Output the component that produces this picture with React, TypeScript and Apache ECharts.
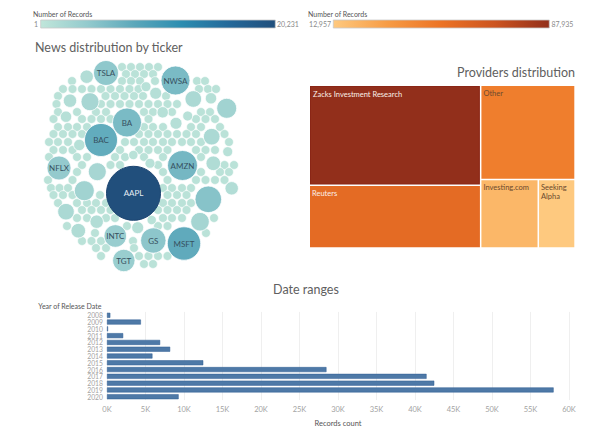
import React, { useEffect, useRef } from "react";
import * as echarts from "echarts";

// ---------- data ----------
const bubbleLegendRange = [1, 20231];
const providerLegendRange = [12957, 87935];

const tickerNames = ["TGT", "INTC", "NFLX", "TSLA", "GS", "BA", "NWSA", "AMZN", "BAC", "MSFT", "AAPL"];
const tickerRecords = [3481, 3544, 3996, 4336, 4476, 5835, 5835, 6244, 7556, 7740, 20231];
// packed-bubble layout coordinates
const tickerLayoutX = [123.8, 115.3, 59, 106, 153.3, 127, 175.5, 182.5, 101, 184, 133.5];
const tickerLayoutY = [260.5, 236, 168, 73, 240.5, 122.5, 80.5, 165.5, 140, 243.5, 193.3];

// unlabeled medium tickers: [layoutX, layoutY, records]
const unlabeledTickers: [number, number, number][] = [
  [226.7, 108.3, 2775], [193.3, 99, 1912], [211, 98.3, 902], [211.7, 136.7, 1912],
  [176, 123.3, 999], [155.7, 93.3, 999], [162.7, 112.3, 902], [187.7, 116, 694],
  [227.7, 151.7, 694], [146, 86.7, 694], [84.3, 190.7, 2775], [97.3, 171.7, 2248],
  [66, 211.7, 1912], [78.3, 230.7, 1479], [96.7, 221.7, 1246], [137.7, 227.7, 999],
  [208.3, 199.3, 4909], [200, 221.7, 2401], [231.7, 188.3, 1246], [213.3, 163.3, 1479],
  [90, 101.7, 2248], [70, 100.7, 1246], [86.7, 76.7, 1246], [66, 116.7, 902],
  [79.3, 145, 902], [151.7, 220, 613], [150, 163.3, 694], [133.3, 155, 613],
];

// small tickers, by layout row: [layoutY, layoutX list]
const smallTickerRows: [number, number[]][] = [
  [67, [122, 131, 140, 149, 158]],
  [74, [126, 135, 144, 153]],
  [81, [72, 122, 131, 140, 155, 197, 205]],
  [89, [63, 72.5, 82, 91.5, 101, 110.5, 120, 129.5, 138.5, 199, 208, 216]],
  [96, [58, 105.5, 115, 124.5, 134, 143, 166]],
  [104, [56.5, 101, 110.5, 120, 129.5, 139, 148.5, 158, 167.5, 177]],
  [112, [58, 77, 96, 106, 144, 153, 172, 201, 210]],
  [119, [53.5, 82, 91.5, 101, 110.5, 148.5, 196, 205.5, 215]],
  [127, [58, 68, 77, 87, 144, 153, 163, 191, 201, 220]],
  [134, [53.5, 63, 72.5, 82, 139, 148.5, 158, 167.5, 177, 186.5, 196, 224.5]],
  [142, [49, 58, 68, 125, 134, 144, 153, 163, 172, 182, 191, 201, 229]],
  [150, [53.5, 63, 72.5, 120, 139, 148.5, 158, 167.5, 196, 205.5, 215]],
  [157, [49, 77, 87, 115, 125, 144, 163, 201]],
  [165, [82, 110.5, 120, 158, 224.5, 234]],
  [172, [77, 163, 201, 220, 229]],
  [180, [48, 72.5, 167.5, 196, 205.5, 215, 224.5]],
  [188, [51, 59.5, 68, 163, 172, 182, 191]],
  [195, [53.5, 63, 72.5, 100, 167.5, 177, 186.5]],
  [203, [58, 77, 87, 96, 106, 163, 172, 182, 191]],
  [210, [82, 91.5, 101, 110.5, 158, 167.5, 177, 186.5]],
  [218, [77, 87, 106, 115, 163, 172, 182, 214]],
  [226, [67, 127, 158, 167.5]],
  [233, [95, 206]],
  [241, [82, 91.5, 101, 133]],
  [248, [96, 106, 134]],
  [256, [101, 139, 148.5, 158, 167.5]],
  [264, [144, 153]],
];
const smallTickerRecords = 540;

const providerNames = ["Zacks Investment Research", "Reuters", "Other", "Investing.com", "Seeking Alpha"];
const providerRecords = [87935, 55300, 45600, 20308, 12957];

const years = ["2008", "2009", "2010", "2011", "2012", "2013", "2014", "2015", "2016", "2017", "2018", "2019", "2020"];
const yearRecords = [430, 4400, 130, 2100, 6900, 8200, 5900, 12500, 28500, 41500, 42500, 58000, 9300];

// ---------- styles ----------
const FONT = "Lato, 'Noto Sans', sans-serif";
const tealStops = ["#c0e6da", "#93cacd", "#5ba7ba", "#2c8db0", "#24699a", "#214f7c"];
const orangeStops = ["#fec97f", "#f79c45", "#ec7325", "#cc5420", "#922f1b"];
const MAX_RADIUS = 27;
const TITLE_COLOR = "#606060";

function gradient(stops: string[]) {
  return new echarts.graphic.LinearGradient(
    0, 0, 1, 0,
    stops.map((c, i) => ({ offset: i / (stops.length - 1), color: c }))
  );
}
const fmt = (n: number) => n.toLocaleString("en-US");

export default function App() {
  const ref = useRef<HTMLDivElement>(null);

  useEffect(() => {
    if (!ref.current) return;
    const chart = echarts.init(ref.current, undefined, { renderer: "svg" });

    const smallData: any[] = [];
    smallTickerRows.forEach(([y, xs]) => xs.forEach((x) => smallData.push([x, y, smallTickerRecords])));

    const tickerData: any[] = unlabeledTickers.map((d) => ({ value: d, label: { show: false } }));
    tickerNames.forEach((name, i) => {
      const isTop = tickerRecords[i] === bubbleLegendRange[1];
      tickerData.push({
        name,
        value: [tickerLayoutX[i], tickerLayoutY[i], tickerRecords[i]],
        label: { show: true, color: isTop ? "#e4ebf3" : "#36505f" },
        itemStyle: isTop ? { borderColor: "#1d4571", borderWidth: 1 } : undefined,
      });
    });

    const [pMin, pMax] = providerLegendRange;
    const treeData = providerNames.map((name, i) => {
      const t = (providerRecords[i] - pMin) / (pMax - pMin);
      const dark = t > 0.5;
      return {
        name,
        value: providerRecords[i],
        itemStyle: {
          color: echarts.color.lerp(Math.max(0, Math.min(1, t)), orangeStops),
          ...(i === 0 ? { borderColor: "#8a2616", borderWidth: 1 } : {}),
        },
        label: { color: dark ? "#fbefe8" : "#6b4a2e" },
      };
    });

    const sizeOf = (v: number[]) => 2 * MAX_RADIUS * Math.sqrt(v[2] / bubbleLegendRange[1]);

    chart.setOption({
      animation: false,
      textStyle: { fontFamily: FONT },
      grid: [
        { left: 30, top: 50, width: 230, height: 230 },
        { left: 107, top: 311.9, width: 462, height: 88.2 },
      ],
      xAxis: [
        { gridIndex: 0, type: "value", min: 30, max: 260, show: false },
        {
          gridIndex: 1, type: "value", min: 0, max: 60000, interval: 5000,
          axisLine: { show: false }, axisTick: { show: false },
          splitLine: { show: true, lineStyle: { color: "#efefef", width: 1 } },
          axisLabel: { formatter: (v: number) => v / 1000 + "K", color: "#a3a3a3", fontSize: 7.5, margin: 5, fontFamily: FONT },
          name: "Records count", nameLocation: "middle", nameGap: 19,
          nameTextStyle: { color: "#555", fontSize: 7.5, fontFamily: FONT },
        },
      ],
      yAxis: [
        { gridIndex: 0, type: "value", min: 50, max: 280, inverse: true, show: false },
        {
          gridIndex: 1, type: "category", data: years, inverse: true,
          axisLine: { show: false }, axisTick: { show: false }, splitLine: { show: false },
          axisLabel: { interval: 0, color: "#a3a3a3", fontSize: 6.8, lineHeight: 6.5, margin: 4, fontFamily: FONT },
        },
      ],
      visualMap: {
        type: "continuous", show: false, min: bubbleLegendRange[0], max: bubbleLegendRange[1],
        dimension: 2, seriesIndex: [0, 1], inRange: { color: tealStops },
      },
      series: [
        {
          type: "scatter", xAxisIndex: 0, yAxisIndex: 0, silent: true,
          data: smallData, symbolSize: sizeOf,
          itemStyle: { borderColor: "#ffffff", borderWidth: 0.6, opacity: 1 },
        },
        {
          type: "scatter", xAxisIndex: 0, yAxisIndex: 0, silent: true,
          data: tickerData, symbolSize: sizeOf,
          itemStyle: { borderColor: "#ffffff", borderWidth: 0.8, opacity: 1 },
          label: { position: "inside", formatter: "{b}", fontSize: 8, fontFamily: FONT },
        },
        {
          type: "treemap", left: 310, top: 86, width: 264.3, height: 161.3,
          roam: false, nodeClick: false, silent: true,
          breadcrumb: { show: false },
          itemStyle: { borderWidth: 0, gapWidth: 1.5, borderColor: "#fff" },
          levels: [{ itemStyle: { borderWidth: 0, gapWidth: 1.5 } }],
          label: {
            show: true, position: "insideTopLeft", fontSize: 7.5, fontFamily: FONT,
            padding: [3, 2], overflow: "break", lineHeight: 9,
          },
          upperLabel: { show: false },
          data: treeData,
        },
        {
          type: "bar", xAxisIndex: 1, yAxisIndex: 1, silent: true,
          data: yearRecords, barWidth: 5,
          itemStyle: { color: "#4e79a7", borderColor: "#2f5d93", borderWidth: 0.5 },
        },
      ],
      graphic: [
        // bubble legend
        { type: "text", x: 33, y: 14, style: { text: "Number of Records", fill: "#555", fontSize: 7, fontFamily: FONT, verticalAlign: "middle" } },
        { type: "rect", shape: { x: 40.7, y: 20, width: 234.6, height: 8 }, style: { fill: gradient(tealStops), stroke: "#c9c9c9", lineWidth: 0.8 } },
        { type: "text", x: 38, y: 24, style: { text: fmt(bubbleLegendRange[0]), fill: "#8a8a8a", fontSize: 7, fontFamily: FONT, align: "right", verticalAlign: "middle" } },
        { type: "text", x: 277, y: 24, style: { text: fmt(bubbleLegendRange[1]), fill: "#8a8a8a", fontSize: 7, fontFamily: FONT, verticalAlign: "middle" } },
        // provider legend
        { type: "text", x: 308, y: 14, style: { text: "Number of Records", fill: "#555", fontSize: 7, fontFamily: FONT, verticalAlign: "middle" } },
        { type: "rect", shape: { x: 333.3, y: 20, width: 216, height: 8 }, style: { fill: gradient(orangeStops), stroke: "#c9c9c9", lineWidth: 0.8 } },
        { type: "text", x: 331, y: 24, style: { text: fmt(providerLegendRange[0]), fill: "#8a8a8a", fontSize: 7, fontFamily: FONT, align: "right", verticalAlign: "middle" } },
        { type: "text", x: 551.5, y: 24, style: { text: fmt(providerLegendRange[1]), fill: "#8a8a8a", fontSize: 7, fontFamily: FONT, verticalAlign: "middle" } },
        // titles
        { type: "text", x: 35, y: 47, style: { text: "News distribution by ticker", fill: TITLE_COLOR, fontSize: 12.5, fontFamily: FONT, verticalAlign: "middle" } },
        { type: "text", x: 575, y: 72, style: { text: "Providers distribution", fill: TITLE_COLOR, fontSize: 12.5, fontFamily: FONT, align: "right", verticalAlign: "middle" } },
        { type: "text", x: 306, y: 289.5, style: { text: "Date ranges", fill: TITLE_COLOR, fontSize: 12.5, fontFamily: FONT, align: "center", verticalAlign: "middle" } },
        { type: "text", x: 38.3, y: 306.3, style: { text: "Year of Release Date", fill: "#555", fontSize: 7, fontFamily: FONT, verticalAlign: "middle" } },
      ],
    });

    return () => chart.dispose();
  }, []);

  return <div ref={ref} style={{ position: "fixed", left: 0, top: 0, width: 610, height: 446, background: "#fff" }} />;
}
